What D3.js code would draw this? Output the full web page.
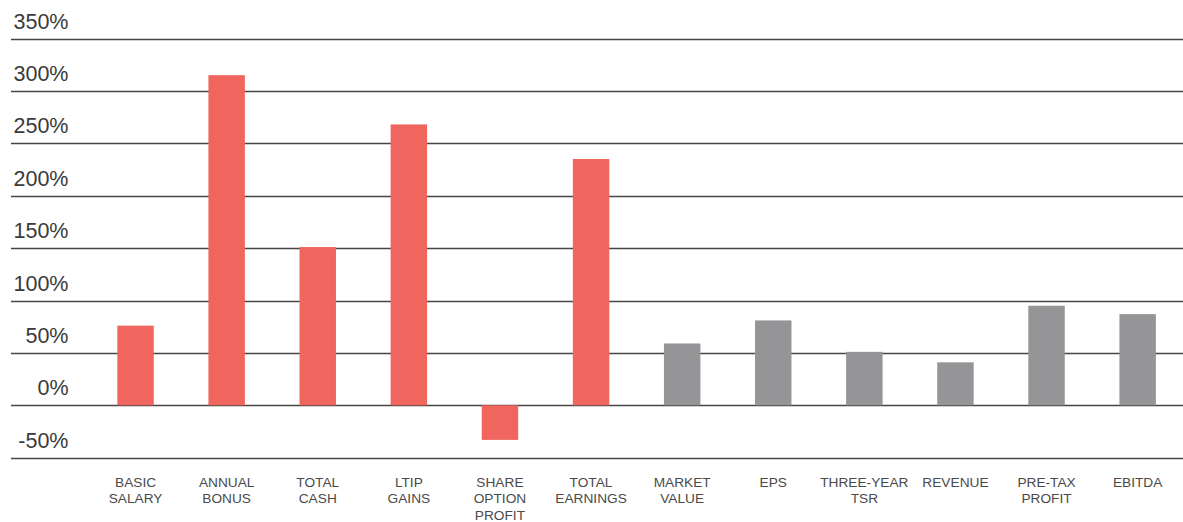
<!DOCTYPE html>
<html>
<head>
<meta charset="utf-8">
<script src="https://cdn.jsdelivr.net/npm/d3@7"></script>
<style>
  html, body { margin: 0; padding: 0; background: #fff; }
  svg { display: block; }
</style>
</head>
<body>
<svg id="chart" width="1183" height="522"></svg>
<script>
// Percentage change by pay element and company performance measure
const categories = [
  ["BASIC", "SALARY"],
  ["ANNUAL", "BONUS"],
  ["TOTAL", "CASH"],
  ["LTIP", "GAINS"],
  ["SHARE", "OPTION", "PROFIT"],
  ["TOTAL", "EARNINGS"],
  ["MARKET", "VALUE"],
  ["EPS"],
  ["THREE-YEAR", "TSR"],
  ["REVENUE"],
  ["PRE-TAX", "PROFIT"],
  ["EBITDA"]
];
const values = [76, 315, 151, 268, -33, 235, 59, 81, 51, 41, 95, 87];
const groups = ["pay", "pay", "pay", "pay", "pay", "pay",
                "performance", "performance", "performance", "performance", "performance", "performance"];
const tickValues = [-50, 0, 50, 100, 150, 200, 250, 300, 350];

const colors = { pay: "#f0655e", performance: "#959598" };

const svg = d3.select("#chart");
const width = 1183;

const y = d3.scaleLinear().domain([-50, 350]).range([457.7, 38.5]);
const x = d3.scaleBand()
  .domain(d3.range(categories.length))
  .range([90, 1183.2])
  .paddingInner(0.6)
  .paddingOuter(0.3);

// Horizontal gridlines with percentage labels above them
const grid = svg.append("g");
grid.selectAll("line")
  .data(tickValues)
  .join("line")
  .attr("x1", 11)
  .attr("x2", width)
  .attr("y1", d => Math.round(y(d)) + 0.5)
  .attr("y2", d => Math.round(y(d)) + 0.5)
  .attr("stroke", "#4a4545")
  .attr("stroke-width", 1.4);

grid.selectAll("text")
  .data(tickValues)
  .join("text")
  .attr("x", 68.5)
  .attr("y", d => y(d) - 10)
  .attr("text-anchor", "end")
  .attr("font-family", "'Liberation Sans', Arial, sans-serif")
  .attr("font-size", 21.5)
  .attr("fill", "#3a3a3a")
  .text(d => d + "%");

// Bars
svg.append("g")
  .selectAll("rect")
  .data(values)
  .join("rect")
  .attr("x", (d, i) => x(i))
  .attr("width", x.bandwidth())
  .attr("y", d => y(Math.max(0, d)))
  .attr("height", d => Math.abs(y(d) - y(0)))
  .attr("fill", (d, i) => colors[groups[i]]);

// Category labels below the chart
const labels = svg.append("g")
  .selectAll("text")
  .data(categories)
  .join("text")
  .attr("x", (d, i) => x(i) + x.bandwidth() / 2)
  .attr("y", 486.5)
  .attr("text-anchor", "middle")
  .attr("font-family", "'Liberation Sans', Arial, sans-serif")
  .attr("font-size", 13.7)
  .attr("fill", "#4a4a4a");

labels.selectAll("tspan")
  .data(d => d)
  .join("tspan")
  .attr("x", function () { return d3.select(this.parentNode).attr("x"); })
  .attr("dy", (d, i) => i === 0 ? 0 : 16.5)
  .text(d => d);
</script>
</body>
</html>
